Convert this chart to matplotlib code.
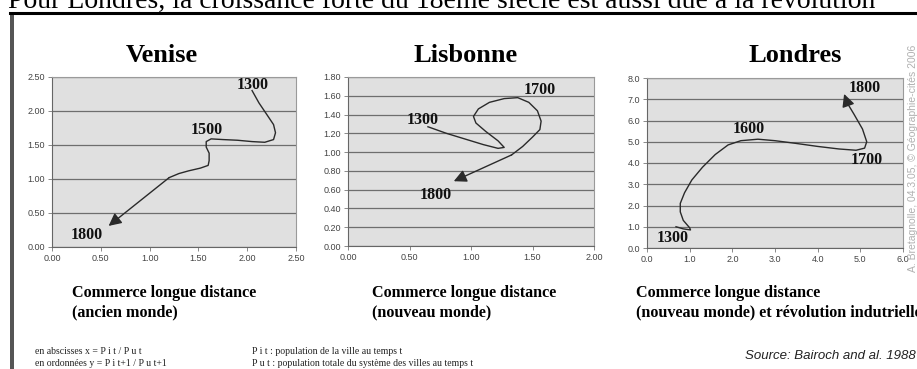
import matplotlib.pyplot as plt
from matplotlib.patches import Rectangle
import numpy as np

# trajectoires (x = part de la ville au temps t, y = part au temps t+1)
venise_x = [2.05, 2.12, 2.20, 2.27, 2.29, 2.27, 2.18, 2.05, 1.90, 1.75, 1.63,
            1.58, 1.58, 1.61, 1.61, 1.60, 1.52, 1.40, 1.30, 1.20]
venise_y = [2.30, 2.12, 1.95, 1.80, 1.68, 1.58, 1.54, 1.55, 1.57, 1.58, 1.59,
            1.55, 1.47, 1.38, 1.27, 1.20, 1.16, 1.12, 1.08, 1.02]
venise_fin = (0.58, 0.31)

lisbonne_x = [0.65, 0.80, 0.95, 1.10, 1.22, 1.27, 1.22, 1.12, 1.04, 1.02, 1.06,
              1.15, 1.27, 1.38, 1.47, 1.54, 1.57, 1.56, 1.50, 1.42, 1.33]
lisbonne_y = [1.27, 1.20, 1.14, 1.08, 1.04, 1.05, 1.12, 1.22, 1.31, 1.38, 1.46,
              1.53, 1.57, 1.58, 1.53, 1.44, 1.33, 1.24, 1.16, 1.06, 0.97]
lisbonne_fin = (0.86, 0.69)

londres_x = [0.68, 0.85, 1.02, 1.00, 0.85, 0.78, 0.78, 0.88, 1.05, 1.30, 1.60,
             1.90, 2.20, 2.60, 3.00, 3.50, 4.00, 4.50, 4.90, 5.10, 5.15, 5.05,
             4.85, 4.70]
londres_y = [1.00, 0.90, 0.85, 0.95, 1.30, 1.70, 2.10, 2.60, 3.20, 3.80, 4.40,
             4.85, 5.05, 5.12, 5.05, 4.92, 4.78, 4.66, 4.60, 4.70, 5.00, 5.60,
             6.30, 6.80]
londres_fin = (4.62, 7.25)

# étiquettes de dates (texte, x, y)
venise_dates = [("1300", 2.06, 2.38), ("1500", 1.59, 1.72), ("1800", 0.36, 0.18)]
lisbonne_dates = [("1300", 0.61, 1.34), ("1700", 1.56, 1.66), ("1800", 0.71, 0.54)]
londres_dates = [("1300", 0.61, 0.47), ("1600", 2.39, 5.60), ("1700", 5.16, 4.14),
                 ("1800", 5.11, 7.53)]

W, H = 917, 369
fig = plt.figure(figsize=(W / 100, H / 100), dpi=100)
serif = "Liberation Serif"
sans = "Liberation Sans"


def px(x0, y0, x1, y1):
    # rectangle en pixels -> coordonnées figure
    return [x0 / W, 1 - y1 / H, (x1 - x0) / W, (y1 - y0) / H]


def panneau(rect, xs, ys, fin, dates, xlim, xstep, ylim, ystep, fmt, titre,
            tx, etiquette, ex):
    ax = fig.add_axes(px(*rect))
    ax.set_facecolor("#e0e0e0")
    ax.set_xlim(*xlim)
    ax.set_ylim(*ylim)
    ax.set_xticks(np.arange(xlim[0], xlim[1] + 1e-9, xstep))
    ax.set_yticks(np.arange(ylim[0], ylim[1] + 1e-9, ystep))
    ax.set_xticklabels([fmt % v for v in ax.get_xticks()])
    ax.set_yticklabels([fmt % v for v in ax.get_yticks()])
    ax.tick_params(labelsize=6.5, length=3, width=0.6, color="#777777",
                   labelcolor="#444444", pad=2)
    for lab in ax.get_xticklabels() + ax.get_yticklabels():
        lab.set_family(sans)
    ax.yaxis.grid(True, color="#6e6e6e", lw=0.9)
    ax.set_axisbelow(True)
    for s in ax.spines.values():
        s.set_color("#9a9a9a")
        s.set_linewidth(0.8)
    ax.spines["left"].set_color("#666666")
    ax.spines["bottom"].set_color("#666666")

    ax.plot(xs, ys, color="#2a2a2a", lw=1.0)
    ax.annotate("", xy=fin, xytext=(xs[-1], ys[-1]),
                arrowprops=dict(arrowstyle="-|>", color="#2a2a2a", lw=1.0,
                                mutation_scale=19, shrinkA=0, shrinkB=0))
    for txt, x, y in dates:
        ax.text(x, y, txt, family=serif, weight="bold", fontsize=11.5,
                ha="center", va="center", color="#111111")

    fig.text(tx / W, 1 - 55 / H, titre, family=serif, weight="bold",
             fontsize=19, ha="center", va="center")
    fig.text(ex / W, 1 - 303 / H, etiquette, family=serif, weight="bold",
             fontsize=11.6, ha="left", va="center", linespacing=1.3)
    return ax


panneau((52, 77, 296, 247), venise_x, venise_y, venise_fin, venise_dates,
        (0, 2.5), 0.5, (0, 2.5), 0.5, "%.2f", "Venise", 162,
        "Commerce longue distance\n(ancien monde)", 72)
panneau((348, 77, 594, 246), lisbonne_x, lisbonne_y, lisbonne_fin, lisbonne_dates,
        (0, 2.0), 0.5, (0, 1.8), 0.2, "%.2f", "Lisbonne", 466,
        "Commerce longue distance\n(nouveau monde)", 372)
panneau((647, 78, 903, 248), londres_x, londres_y, londres_fin, londres_dates,
        (0, 6.0), 1.0, (0, 8.0), 1.0, "%.1f", "Londres", 795,
        "Commerce longue distance\n(nouveau monde) et révolution indutrielle", 636)

# cadre
fig.add_artist(Rectangle((10 / W, 0), 4 / W, 1 - 14 / H, transform=fig.transFigure,
                         color="#555555", lw=0))
fig.add_artist(plt.Line2D([10 / W, 1], [1 - 12.5 / H] * 2, transform=fig.transFigure,
                          color="black", lw=2.2))

# phrase du texte courant, coupée par le haut
fig.text(-6 / W, 1 - 8 / H, ". Pour Londres, la croissance forte du 18ème siècle est aussi due à la révolution",
         family=serif, fontsize=20, ha="left", va="baseline")

# notes de bas de page
notes_g = ["en abscisses x = P i t / P u t", "en ordonnées y = P i t+1 / P u t+1"]
notes_d = ["P i t : population de la ville au temps t",
           "P u t : population totale du système des villes au temps t"]
for i, (a, b) in enumerate(zip(notes_g, notes_d)):
    fig.text(35 / W, 1 - (351 + 12 * i) / H, a, family=serif, fontsize=7,
             va="center", color="#222222")
    fig.text(252 / W, 1 - (351 + 12 * i) / H, b, family=serif, fontsize=7,
             va="center", color="#222222")
fig.text(745 / W, 1 - 356 / H, "Source: Bairoch and al. 1988", family=sans,
         style="italic", fontsize=9.5, va="center", color="#222222")

fig.text(913 / W, 1 - 158 / H, "A. Bretagnolle, 04.3.05, © Géographie-cités 2006",
         family=sans, fontsize=7.5, rotation=90, ha="center", va="center",
         color="#b0b0b0")

fig.savefig("out.png", dpi=100, facecolor="white")
